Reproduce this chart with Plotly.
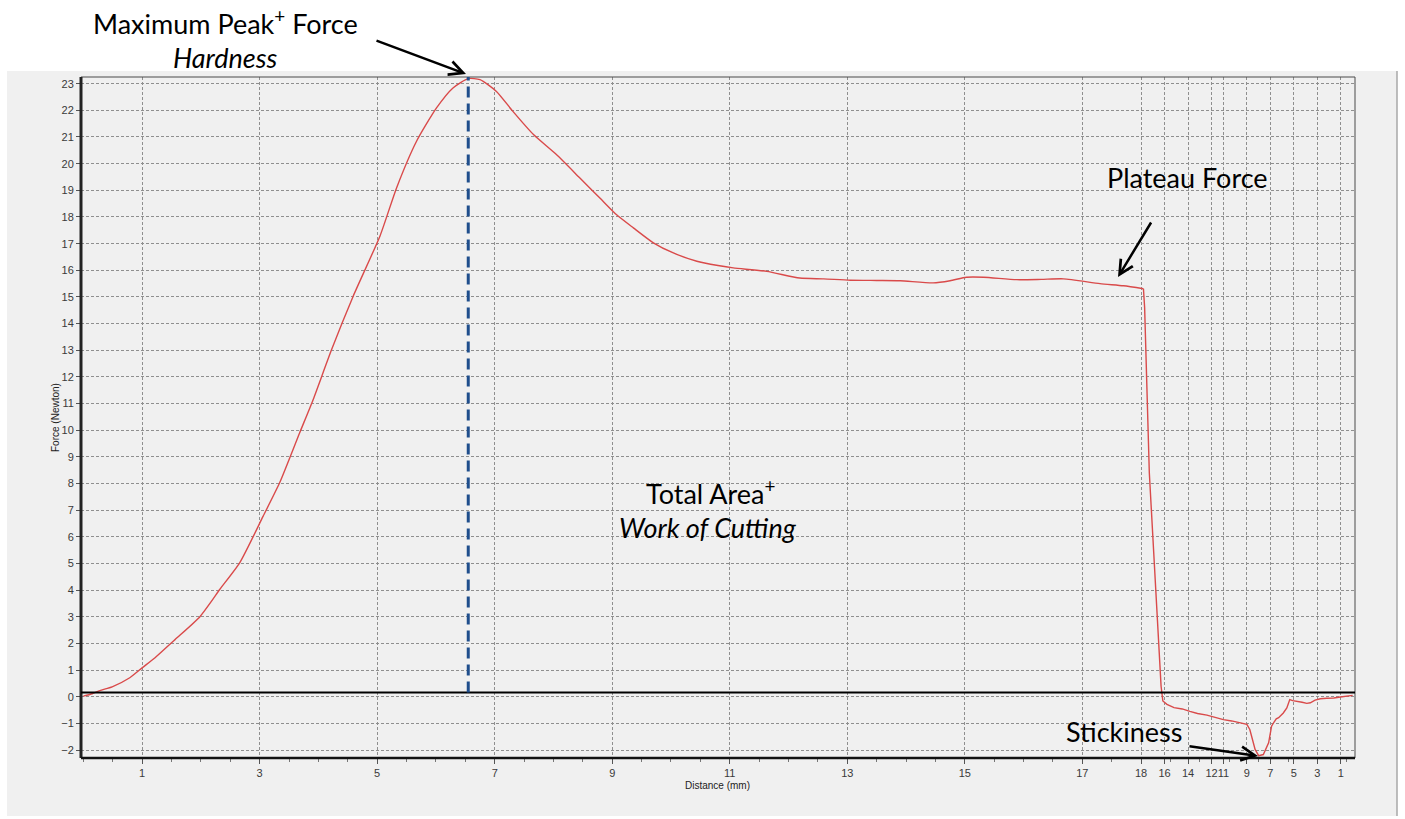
import plotly.graph_objects as go

# ---------------- data ----------------
# Cutting phase: probe travels 0 -> 18 mm
cut_distance = [0.0, 0.15, 0.28, 0.49, 0.79, 1.0, 1.22, 1.56, 1.98, 2.2, 2.32, 2.66,
                3.06, 3.34, 3.68, 3.91, 4.22, 4.59, 5.05, 5.33, 5.67, 6.01, 6.29,
                6.55, 6.75, 7.03, 7.31, 7.66, 8.05, 8.45, 8.79, 9.07, 9.36, 9.70,
                10.04, 10.44, 10.8, 11.06, 11.63, 12.19, 12.6, 13.05, 13.5, 13.9,
                14.46, 14.75, 15.03, 15.32, 15.88, 16.3, 16.68, 17.30, 17.7, 18.04]
cut_force = [0.03, 0.12, 0.24, 0.38, 0.72, 1.09, 1.47, 2.15, 3.0, 3.65, 4.03, 5.03,
             6.78, 8.03, 9.9, 11.15, 13.0, 15.02, 17.3, 19.09, 20.84, 22.09, 22.84,
             23.19, 23.15, 22.71, 21.96, 21.09, 20.34, 19.46, 18.71, 18.09, 17.59, 17.03,
             16.65, 16.34, 16.18, 16.09, 15.96, 15.71, 15.68, 15.63, 15.62, 15.61,
             15.53, 15.61, 15.74, 15.74, 15.65, 15.66, 15.68, 15.50, 15.42, 15.31]

# Withdrawal phase: probe returns 18 -> 0 mm (5x faster, so compressed on the axis)
ret_distance = [17.7, 17.3, 16.85, 16.3, 16.15, 15.8, 15.2, 14.5, 13.85, 13.2, 12.4,
                11.7, 11.0, 10.3, 9.6, 9.0, 8.75, 8.3, 8.0, 7.6, 7.15, 6.9, 6.7, 6.5,
                6.3, 6.15, 5.9, 5.6, 5.35, 5.1, 4.75, 4.3, 3.9, 3.6, 3.2, 2.75, 2.2,
                1.6, 1.05, 0.5, 0.0]
ret_force = [14.6, 8.4, 4.65, 0.4, -0.15, -0.28, -0.40, -0.45, -0.54, -0.62, -0.68,
             -0.76, -0.85, -0.90, -0.97, -1.03, -1.22, -1.97, -2.20, -2.16, -1.72, -1.10,
             -0.95, -0.82, -0.78, -0.72, -0.60, -0.41, -0.10, -0.14, -0.16, -0.20, -0.24,
             -0.22, -0.12, -0.07, -0.05, -0.04, 0.0, 0.03, 0.06]

cut_ticks = [1, 3, 5, 7, 9, 11, 13, 15, 17, 18]
ret_ticks = [16, 14, 12, 11, 9, 7, 5, 3, 1]

TURN_DISTANCE = 18.0
RETURN_SPEED_RATIO = 5.0
BASELINE_FORCE = 0.17


def ret_pos(d):
    return TURN_DISTANCE + (TURN_DISTANCE - d) / RETURN_SPEED_RATIO


ret_x = [cut_distance[-1]] + [ret_pos(d) for d in ret_distance]
ret_y = [cut_force[-1]] + list(ret_force)

tick_vals = list(cut_ticks) + [ret_pos(d) for d in ret_ticks]
tick_text = [str(t) for t in cut_ticks] + [str(t) for t in ret_ticks]

peak_idx = max(range(len(cut_force)), key=lambda i: cut_force[i])
peak_distance = cut_distance[peak_idx]

# ---------------- figure ----------------
W, H = 1405, 819
L, R, T, B = 81, 50, 77, 61
PW, PH = W - L - R, H - T - B


def px(xp):
    return (xp - L) / PW


def py(yp):
    return (H - B - yp) / PH


X_RANGE = [-0.04, 21.64]
Y_RANGE = [-2.29, 23.25]

line_style = dict(color="#d94a4a", width=1.4)
fig = go.Figure()
fig.add_trace(go.Scatter(x=cut_distance, y=cut_force, mode="lines",
                         line=dict(shape="spline", smoothing=0.6, **line_style),
                         hoverinfo="skip", showlegend=False))
fig.add_trace(go.Scatter(x=ret_x, y=ret_y, mode="lines", line=line_style,
                         hoverinfo="skip", showlegend=False))

grid_kw = dict(showgrid=True, gridcolor="#8f8f8f", gridwidth=1, griddash="3px,2px",
               zeroline=False, showline=False, automargin=False)
tick_font = dict(family="Liberation Sans, Arial", size=11, color="#3a3a3a")

fig.update_layout(
    width=W, height=H,
    margin=dict(l=L, r=R, t=T, b=B, autoexpand=False),
    paper_bgcolor="white",
    plot_bgcolor="#f0f0f0",
    xaxis=dict(range=X_RANGE, tickmode="array", tickvals=tick_vals, ticktext=tick_text,
               tickangle=0,
               ticks="outside", ticklen=5, tickcolor="#555", tickfont=tick_font,
               minor=dict(tickmode="linear", tick0=0, dtick=0.5, ticks="outside",
                          ticklen=3, tickcolor="#777", showgrid=False),
               **grid_kw),
    yaxis=dict(range=Y_RANGE, tickmode="linear", tick0=-2, dtick=1,
               ticks="outside", ticklen=4, tickcolor="#555", tickfont=tick_font,
               **grid_kw),
)

shapes = [
    # grey application panel
    dict(type="rect", xref="paper", yref="paper", x0=px(7), x1=px(1397), y0=py(816), y1=py(71),
         fillcolor="#f0f0f0", line=dict(width=0), layer="below"),
    dict(type="line", xref="paper", yref="paper", x0=px(1397), x1=px(1397), y0=py(816), y1=py(71),
         line=dict(color="#a9a9a9", width=1.5)),
    # plot frame
    dict(type="rect", xref="paper", yref="paper", x0=0, x1=1, y0=0, y1=1,
         line=dict(color="#4a4a4a", width=1)),
    dict(type="line", xref="paper", yref="paper", x0=0, x1=0, y0=0, y1=1,
         line=dict(color="#222", width=3)),
    dict(type="line", xref="paper", yref="paper", x0=0, x1=1, y0=0, y1=0,
         line=dict(color="#111", width=2.5)),
    # baseline
    dict(type="line", xref="paper", yref="y", x0=0, x1=1, y0=BASELINE_FORCE, y1=BASELINE_FORCE,
         line=dict(color="#000", width=2)),
    # peak marker
    dict(type="line", xref="x", yref="y", x0=peak_distance, x1=peak_distance,
         y0=BASELINE_FORCE, y1=Y_RANGE[1],
         line=dict(color="#1f4e8c", width=3, dash="11px,6px")),
]
fig.update_layout(shapes=shapes)

big = dict(family="Lato, Carlito, Calibri, sans-serif", size=27, color="#000")
small = dict(family="Liberation Sans, Arial", size=10, color="#222")

annotations = [
    dict(text="Maximum Peak<sup>+</sup> Force", x=px(225), y=py(22)),
    dict(text="<i>Hardness</i>", x=px(225), y=py(57)),
    dict(text="Plateau Force", x=px(1187), y=py(177)),
    dict(text="Total Area<sup>+</sup>", x=px(710), y=py(492)),
    dict(text="<i>Work of Cutting</i>", x=px(708), y=py(527)),
    dict(text="Stickiness", x=px(1124), y=py(731)),
]
anns = []
for a in annotations:
    anns.append(dict(text=a["text"], x=a["x"], y=a["y"], xref="paper", yref="paper",
                     xanchor="center", yanchor="middle", showarrow=False, font=big))

# axis titles
anns.append(dict(text="Force (Newton)", x=px(55), y=py(418), xref="paper", yref="paper",
                 textangle=-90, showarrow=False, font=small, xanchor="center", yanchor="middle"))
anns.append(dict(text="Distance (mm)", x=px(717), y=py(785), xref="paper", yref="paper",
                 showarrow=False, font=small, xanchor="center", yanchor="middle"))

# arrows (head position in pixels of the page, tail offset in pixels)
arrow_kw = dict(text="", showarrow=True, arrowhead=5, arrowsize=1.1, arrowwidth=2.5,
                arrowcolor="#000", xref="paper", yref="paper", axref="pixel", ayref="pixel")
anns.append(dict(x=px(466), y=py(74), ax=-91, ay=-34, **arrow_kw))
anns.append(dict(x=px(1118), y=py(277), ax=34, ay=-56, **arrow_kw))
anns.append(dict(x=px(1258), y=py(756), ax=-70, ay=-10, **arrow_kw))

fig.update_layout(annotations=anns)

fig.write_html("out.html",
               config={"displayModeBar": False},
               post_script="document.body.style.margin='0px';"
                           "document.body.style.overflow='hidden';")
